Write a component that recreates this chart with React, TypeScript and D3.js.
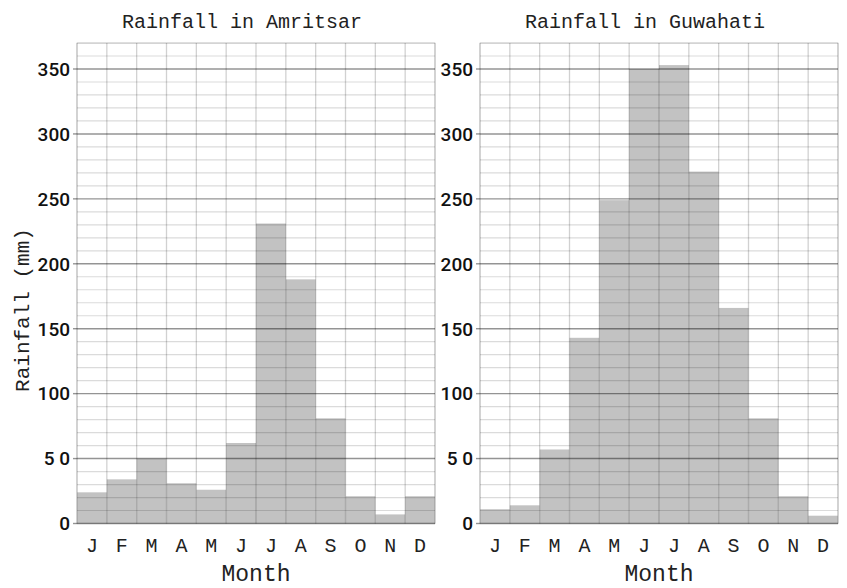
import * as d3 from 'd3'

const months = ['J', 'F', 'M', 'A', 'M', 'J', 'J', 'A', 'S', 'O', 'N', 'D']
const amritsarRain = [24, 34, 50, 31, 26, 62, 231, 188, 81, 21, 7, 21]
const guwahatiRain = [11, 14, 57, 143, 249, 350, 353, 271, 166, 81, 21, 6]
const yTicks = [0, 50, 100, 150, 200, 250, 300, 350]
const yTickLabels = ['0', '5 0', '100', '150', '200', '250', '300', '350']

const W = 847
const H = 588
const mono = '"Liberation Mono", "DejaVu Sans Mono", monospace'
const sans = 'Roboto, "Liberation Sans", sans-serif'

const y = d3.scaleLinear().domain([0, 350]).range([523.5, 69])
const gridMax = 370
const minorTicks = d3.range(0, gridMax + 1, 10)

interface PanelProps {
  title: string
  values: number[]
  left: number
  right: number
}

function Panel({ title, values, left, right }: PanelProps) {
  const x = d3.scaleBand<number>()
    .domain(d3.range(months.length))
    .range([left, right])
    .padding(0)
  const top = y(gridMax)
  const mid = (left + right) / 2

  return (
    <g>
      <text x={mid - 14} y={28} textAnchor="middle" fontFamily={mono} fontSize={20} fill="#222">
        {title}
      </text>
      <rect x={left} y={top} width={right - left} height={y(0) - top} fill="#fff" stroke="#ddd" />
      {values.map((v, i) => (
        <rect key={i} x={x(i)} y={y(v)} width={x.bandwidth()} height={y(0) - y(v)} fill="#c2c2c2" />
      ))}
      {minorTicks.map(t => (
        <line key={'h' + t} x1={left} x2={right} y1={y(t)} y2={y(t)}
          stroke={t % 50 === 0 ? 'rgba(0,0,0,0.42)' : 'rgba(0,0,0,0.14)'}
          strokeWidth={t % 50 === 0 ? 1.4 : 1.2} />
      ))}
      {d3.range(months.length + 1).map(i => {
        const xx = i === months.length ? right : (x(i) as number)
        return (
          <line key={'v' + i} x1={xx} x2={xx} y1={top} y2={y(0)}
            stroke="rgba(0,0,0,0.18)" strokeWidth={1.3} />
        )
      })}
      {yTicks.map((t, i) => (
        <g key={'t' + t}>
          <line x1={left - 4} x2={left} y1={y(t)} y2={y(t)} stroke="rgba(0,0,0,0.42)" strokeWidth={1.4} />
          <text x={left - 7} y={y(t)} dy="0.36em" textAnchor="end" fontFamily={sans}
            fontWeight={500} fontSize={19} fill="#111">
            {yTickLabels[i]}
          </text>
        </g>
      ))}
      {months.map((m, i) => (
        <text key={'m' + i} x={(x(i) as number) + x.bandwidth() / 2} y={552} textAnchor="middle"
          fontFamily={mono} fontSize={20} fill="#222">
          {m}
        </text>
      ))}
      <text x={mid} y={581} textAnchor="middle" fontFamily={mono} fontSize={23} fill="#222">
        Month
      </text>
    </g>
  )
}

export default function App() {
  return (
    <svg width={W} height={H} style={{ position: 'absolute', left: 0, top: 0, background: '#fff' }}>
      <rect width={W} height={H} fill="#fff" />
      <Panel title="Rainfall in Amritsar" values={amritsarRain} left={77} right={435} />
      <Panel title="Rainfall in Guwahati" values={guwahatiRain} left={480} right={838} />
      <text transform="translate(29,310) rotate(-90)" textAnchor="middle" fontFamily={mono}
        fontSize={21} fill="#222">
        Rainfall (mm)
      </text>
    </svg>
  )
}
